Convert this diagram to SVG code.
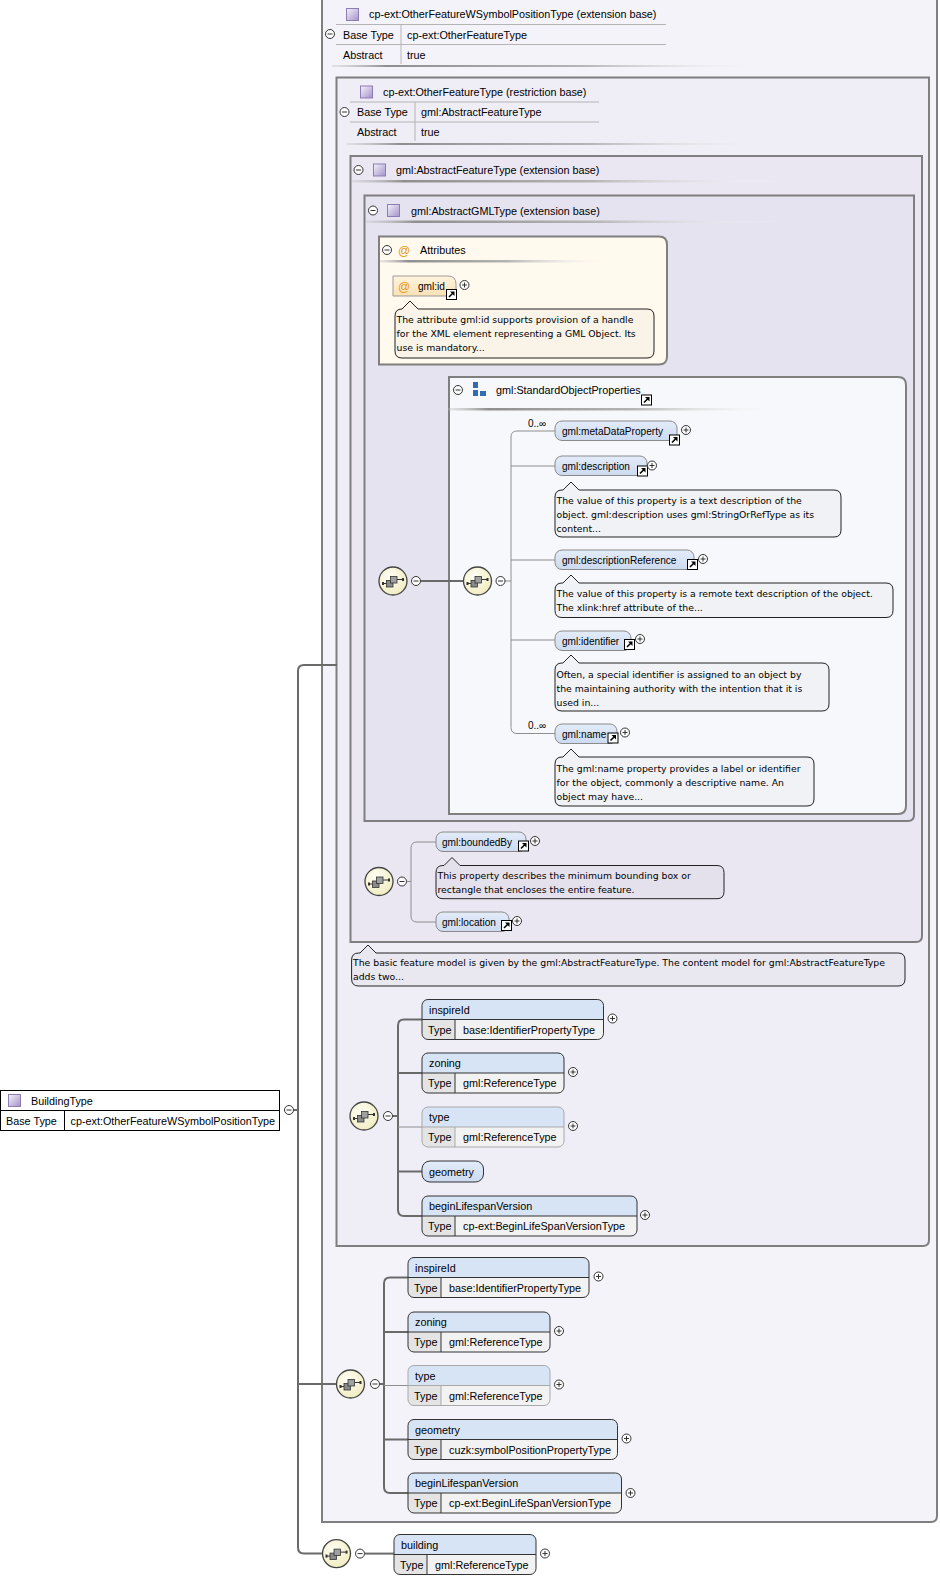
<svg xmlns="http://www.w3.org/2000/svg" width="940" height="1579" viewBox="0 0 940 1579">
<style>
text{font-family:"Liberation Sans",Arial,sans-serif;font-size:10.8px;fill:#000}
.e{font-size:10.1px}
.d{font-family:"DejaVu Sans",Verdana,sans-serif;font-size:9.3px}
.m{font-size:10px}
.at{fill:#e39a13;font-size:12px}
.sb{stroke:#7f7f7f;stroke-width:2}
.tl{stroke:#b4b4b4;stroke-width:1;fill:none}
.sep{fill:url(#sepG)}
.doc{fill:#000;fill-opacity:.025;stroke:#222;stroke-width:1}
.c{stroke:#6a6a6a;stroke-width:2;fill:none}
.cl{stroke:#8e8e8e;stroke-width:1;fill:none}
.el{fill:url(#elG);stroke:#8a8a8a;stroke-width:1}
.elr{fill:url(#elG);stroke:#333;stroke-width:1}
.hd{fill:#d7e4f6}
.tc{fill:#e4e4e4}
.bx{fill:none;stroke:#333;stroke-width:1}
.bxl{fill:none;stroke:#a9a9a9;stroke-width:1}
.ln{stroke:#333;stroke-width:1;fill:none}
.lnl{stroke:#a9a9a9;stroke-width:1;fill:none}
</style>
<defs>
<linearGradient id="sepG" x1="0" x2="1" y1="0" y2="0">
<stop offset="0" stop-color="#bdbdbd" stop-opacity=".3"/>
<stop offset=".12" stop-color="#8f8f8f"/>
<stop offset=".55" stop-color="#b5b5b5"/>
<stop offset="1" stop-color="#ffffff" stop-opacity="0"/>
</linearGradient>
<linearGradient id="elG" x1="0" x2="0" y1="0" y2="1">
<stop offset="0" stop-color="#e3ecf9"/>
<stop offset="1" stop-color="#ccdaf0"/>
</linearGradient>
<linearGradient id="atG" x1="0" x2="0" y1="0" y2="1">
<stop offset="0" stop-color="#fff4df"/>
<stop offset="1" stop-color="#fae0b5"/>
</linearGradient>
<linearGradient id="tyG" x1="0" x2="1" y1="0" y2="1">
<stop offset="0" stop-color="#f6f2fc"/>
<stop offset="1" stop-color="#a292c8"/>
</linearGradient>
<radialGradient id="ciG" cx=".4" cy=".35" r=".7">
<stop offset="0" stop-color="#fffff6"/>
<stop offset="1" stop-color="#f0ebbd"/>
</radialGradient>
<g id="ty"><rect x="0.5" y="0.5" width="12" height="12" fill="url(#tyG)" stroke="#8c7db5" stroke-width="1"/></g>
<g id="mn"><circle r="4.5" fill="#fff" stroke="#333" stroke-width="1"/><path d="M-2.5 0H2.5" stroke="#333" stroke-width="1"/></g>
<g id="pl"><circle r="4.5" fill="#fff" stroke="#333" stroke-width="1"/><path d="M-2.5 0H2.5M0 -2.5V2.5" stroke="#333" stroke-width="1"/></g>
<g id="lk"><rect x="0.5" y="0.5" width="10" height="10" fill="#fff" stroke="#000" stroke-width="1"/><path d="M3 8L7 4" stroke="#000" stroke-width="1.6"/><path d="M4 2.5H8.5V7Z" fill="#000"/></g>
<g id="seq"><circle r="14" fill="url(#ciG)" stroke="#444" stroke-width="1.3"/><path d="M-10 2.5H-6M4 -1.5H10" stroke="#333" stroke-width="1"/><rect x="-11" y="1" width="2" height="3" fill="#333"/><rect x="9" y="-3" width="2" height="3" fill="#333"/><rect x="-6.5" y="-0.5" width="6.5" height="6.5" fill="#8a8a8a" stroke="#333" stroke-width="0.8"/><rect x="-2.5" y="-4.5" width="6.5" height="6.5" fill="#a0a0a0" stroke="#333" stroke-width="0.8"/></g>
</defs>

<rect width="940" height="1579" fill="#fff"/>

<!-- structural boxes -->
<g id="box-OtherFeatureWSymbolPositionType">
<path class="sb" fill="#f5f3fa" d="M322 -5H937V1516Q937 1522 931 1522H322Z"/>
<use href="#ty" x="346" y="8"/>
<text x="369" y="18">cp-ext:OtherFeatureWSymbolPositionType (extension base)</text>
<path class="tl" d="M336 24.5H666M336 44.5H666M401 24.5V64"/>
<use href="#mn" x="330" y="34"/>
<text x="343" y="39">Base Type</text>
<text x="407" y="39">cp-ext:OtherFeatureType</text>
<text x="343" y="58.5">Abstract</text>
<text x="407" y="58.5">true</text>
<rect class="sep" x="332" y="65" width="454" height="2"/>
</g>

<g id="box-OtherFeatureType">
<path class="sb" fill="#efedf6" d="M336.5 77.5H929V1240Q929 1246 923 1246H336.5Z"/>
<use href="#ty" x="360" y="85.5"/>
<text x="383" y="96">cp-ext:OtherFeatureType (restriction base)</text>
<path class="tl" d="M350 102H599M350 122H599M415 102V141"/>
<use href="#mn" x="344.5" y="112"/>
<text x="357" y="116">Base Type</text>
<text x="421" y="116">gml:AbstractFeatureType</text>
<text x="357" y="136">Abstract</text>
<text x="421" y="136">true</text>
<rect class="sep" x="347" y="143" width="439" height="2"/>
</g>

<g id="box-AbstractFeatureType">
<path class="sb" fill="#eae7f3" d="M350.5 156H922V936Q922 942 916 942H350.5Z"/>
<use href="#mn" x="358.5" y="170"/>
<use href="#ty" x="373" y="163.5"/>
<text x="396" y="174">gml:AbstractFeatureType (extension base)</text>
<rect class="sep" x="352" y="180" width="433" height="2.5"/>
</g>

<g id="box-AbstractGMLType">
<path class="sb" fill="#e6e3f0" d="M364.5 195.5H914V815Q914 821 908 821H364.5Z"/>
<use href="#mn" x="373" y="210.5"/>
<use href="#ty" x="387" y="204"/>
<text x="411" y="214.5">gml:AbstractGMLType (extension base)</text>
<rect class="sep" x="366" y="220.5" width="414" height="2.5"/>
</g>

<g id="attributes">
<path class="sb" fill="#fff9ee" d="M379 236.5H659Q667 236.5 667 244.5V356.5Q667 364.5 659 364.5H379Z"/>
<use href="#mn" x="387" y="250"/>
<text class="at" x="398" y="254.5">@</text>
<text x="420" y="254">Attributes</text>
<rect class="sep" x="380" y="260" width="232" height="2.5"/>
</g>

<g id="attr-gml-id">
<path fill="url(#atG)" stroke="#9a9a9a" stroke-width="1" d="M393 276H448Q456 276 456 284V296H393Z"/>
<text class="at" x="398" y="290.5">@</text>
<text class="e" x="418" y="290">gml:id</text>
<use href="#lk" x="446" y="289"/>
<use href="#pl" x="464.5" y="285"/>
<path class="doc" d="M402 309L410 301L418 309H647Q654 309 654 316V351Q654 358 647 358H402Q395 358 395 351V316Q395 309 402 309Z"/>
<text class="d" x="396.5" y="322.5">The attribute gml:id supports provision of a handle</text>
<text class="d" x="396.5" y="336.5">for the XML element representing a GML Object. Its</text>
<text class="d" x="396.5" y="350.5">use is mandatory...</text>
</g>

<g id="StandardObjectProperties">
<path class="sb" fill="#f7f8fb" d="M449 377H898Q906 377 906 385V806Q906 814 898 814H449Z"/>
<use href="#mn" x="458" y="390"/>
<rect x="473" y="382" width="5" height="6" fill="#2f6db5"/>
<rect x="473" y="390" width="5" height="6" fill="#2f6db5"/>
<rect x="480" y="391" width="6" height="5" fill="#2f6db5"/>
<text x="496" y="394">gml:StandardObjectProperties</text>
<use href="#lk" x="641" y="394.5"/>
<rect class="sep" x="448" y="408" width="337" height="2.5"/>
</g>

<!-- connectors -->
<g id="connectors">
<path class="c" d="M294 1110H298"/>
<path class="c" d="M337 665H304Q298 665 298 671V1547.6Q298 1553.6 304 1553.6H322.5"/>
<path class="c" d="M298 1384H336.5"/>
<path class="c" d="M421 581H463.5"/>
<path class="cl" d="M505 581H511"/>
<path class="cl" d="M555 431H517Q511 431 511 437V727.5Q511 733.5 517 733.5H555M511 466H555M511 560H555M511 640H555"/>
<path class="cl" d="M407 881.5H411"/>
<path class="cl" d="M436 842H417Q411 842 411 848V916Q411 922 417 922H436"/>
<path class="c" d="M393 1116H398"/>
<path class="c" d="M422 1019.5H404Q398 1019.5 398 1025.5V1210Q398 1216 404 1216H422M398 1073H422M398 1171.5H422"/>
<path class="cl" d="M398 1127H422"/>
<path class="c" d="M380 1384H384"/>
<path class="c" d="M408 1277.5H390Q384 1277.5 384 1283.5V1487Q384 1493 390 1493H408M384 1332H408M384 1439.5H408"/>
<path class="cl" d="M384 1385.5H408"/>
<path class="c" d="M365 1553.6H394"/>
</g>

<!-- compositors -->
<g id="seq-AbstractGMLType"><use href="#seq" x="393" y="581"/><use href="#mn" x="416" y="581"/></g>
<g id="seq-StandardObjectProperties"><use href="#seq" x="477.5" y="581"/><use href="#mn" x="500.5" y="581"/></g>
<g id="seq-AbstractFeatureType"><use href="#seq" x="379" y="881.5"/><use href="#mn" x="402" y="881.5"/></g>
<g id="seq-OtherFeatureType"><use href="#seq" x="364" y="1116"/><use href="#mn" x="388" y="1116"/></g>
<g id="seq-OtherFeatureWSymbolPositionType"><use href="#seq" x="350.5" y="1384"/><use href="#mn" x="375" y="1384"/></g>
<g id="seq-BuildingType"><use href="#seq" x="336.5" y="1553.6"/><use href="#mn" x="360" y="1553.6"/></g>

<!-- StandardObjectProperties children -->
<g id="gml-metaDataProperty">
<text class="m" x="528" y="426.5">0..∞</text>
<rect class="el" x="555" y="421" width="122" height="19.5" rx="7"/>
<text class="e" x="562" y="435">gml:metaDataProperty</text>
<use href="#lk" x="669" y="434.5"/>
<use href="#pl" x="686" y="430"/>
</g>
<g id="gml-description">
<rect class="el" x="555" y="456" width="92" height="19.5" rx="7"/>
<text class="e" x="562" y="470">gml:description</text>
<use href="#lk" x="637" y="465.5"/>
<use href="#pl" x="652" y="465.5"/>
<path class="doc" d="M563 490L571 482L579 490H834Q841 490 841 497V530Q841 537 834 537H562Q555 537 555 530V497Q555 490 562 490Z"/>
<text class="d" x="556.5" y="503.5">The value of this property is a text description of the</text>
<text class="d" x="556.5" y="517.5">object. gml:description uses gml:StringOrRefType as its</text>
<text class="d" x="556.5" y="531.5">content...</text>
</g>
<g id="gml-descriptionReference">
<rect class="el" x="555" y="550" width="139" height="19.5" rx="7"/>
<text class="e" x="562" y="564">gml:descriptionReference</text>
<use href="#lk" x="687" y="559"/>
<use href="#pl" x="703" y="559"/>
<path class="doc" d="M563 583L571 575L579 583H886Q893 583 893 590V610.5Q893 617.5 886 617.5H562Q555 617.5 555 610.5V590Q555 583 562 583Z"/>
<text class="d" x="556.5" y="596.5">The value of this property is a remote text description of the object.</text>
<text class="d" x="556.5" y="611">The xlink:href attribute of the...</text>
</g>
<g id="gml-identifier">
<rect class="el" x="555" y="631" width="76" height="19.5" rx="7"/>
<text class="e" x="562" y="644.5">gml:identifier</text>
<use href="#lk" x="624" y="639"/>
<use href="#pl" x="640" y="639"/>
<path class="doc" d="M563 663L571 655L579 663H822Q829 663 829 670V704Q829 711 822 711H562Q555 711 555 704V670Q555 663 562 663Z"/>
<text class="d" x="556.5" y="677.5">Often, a special identifier is assigned to an object by</text>
<text class="d" x="556.5" y="691.5">the maintaining authority with the intention that it is</text>
<text class="d" x="556.5" y="705.5">used in...</text>
</g>
<g id="gml-name">
<text class="m" x="528" y="728.5">0..∞</text>
<rect class="el" x="555" y="724" width="62" height="19.5" rx="7"/>
<text class="e" x="562" y="737.5">gml:name</text>
<use href="#lk" x="607.5" y="732.5"/>
<use href="#pl" x="625" y="732.5"/>
<path class="doc" d="M563 757L571 749L579 757H807Q814 757 814 764V799Q814 806 807 806H562Q555 806 555 799V764Q555 757 562 757Z"/>
<text class="d" x="556.5" y="771.5">The gml:name property provides a label or identifier</text>
<text class="d" x="556.5" y="785.5">for the object, commonly a descriptive name. An</text>
<text class="d" x="556.5" y="799.5">object may have...</text>
</g>

<g id="gml-boundedBy">
<rect class="el" x="436" y="832" width="90" height="19.5" rx="7"/>
<text class="e" x="442" y="846">gml:boundedBy</text>
<use href="#lk" x="518" y="840.5"/>
<use href="#pl" x="535" y="841"/>
<path class="doc" d="M444 865.5L452 857.5L460 865.5H717Q724 865.5 724 872.5V891.7Q724 898.7 717 898.7H443Q436 898.7 436 891.7V872.5Q436 865.5 443 865.5Z"/>
<text class="d" x="437.5" y="879">This property describes the minimum bounding box or</text>
<text class="d" x="437.5" y="893">rectangle that encloses the entire feature.</text>
</g>
<g id="gml-location">
<rect class="el" x="436" y="912" width="73" height="19.5" rx="7"/>
<text class="e" x="442" y="926">gml:location</text>
<use href="#lk" x="501" y="920"/>
<use href="#pl" x="517" y="921"/>
</g>
<g id="doc-AbstractFeatureType">
<path class="doc" d="M360 953L368 945L376 953H898Q905 953 905 960V979Q905 986 898 986H358.6Q351.6 986 351.6 979V960Q351.6 953 358.6 953Z"/>
<text class="d" x="353" y="966">The basic feature model is given by the gml:AbstractFeatureType. The content model for gml:AbstractFeatureType</text>
<text class="d" x="353" y="980">adds two...</text>
</g>

<!-- OtherFeatureType elements -->
<g id="ofp-inspireId">
<rect x="422" y="999.5" width="181.5" height="40" rx="6" fill="#f2f2f2"/>
<path class="hd" d="M422 1019.5V1005.5Q422 999.5 428 999.5H597.5Q603.5 999.5 603.5 1005.5V1019.5Z"/>
<path class="tc" d="M422 1019.5H455V1039.5H428Q422 1039.5 422 1033.5Z"/>
<path class="ln" d="M422 1019.5H603.5M455 1019.5V1039.5"/>
<rect class="bx" x="422" y="999.5" width="181.5" height="40" rx="6"/>
<text x="429" y="1013.5">inspireId</text>
<text x="428" y="1033.5">Type</text>
<text x="463" y="1033.5">base:IdentifierPropertyType</text>
<use href="#pl" x="612.5" y="1018.5"/>
</g>
<g id="ofp-zoning">
<rect x="422" y="1053" width="142" height="40" rx="6" fill="#f2f2f2"/>
<path class="hd" d="M422 1073V1059Q422 1053 428 1053H558Q564 1053 564 1059V1073Z"/>
<path class="tc" d="M422 1073H455V1093H428Q422 1093 422 1087Z"/>
<path class="ln" d="M422 1073H564M455 1073V1093"/>
<rect class="bx" x="422" y="1053" width="142" height="40" rx="6"/>
<text x="429" y="1067">zoning</text>
<text x="428" y="1087">Type</text>
<text x="463" y="1087">gml:ReferenceType</text>
<use href="#pl" x="573" y="1072"/>
</g>
<g id="ofp-type">
<rect x="422" y="1107" width="142" height="40" rx="6" fill="#f2f2f2"/>
<path class="hd" d="M422 1127V1113Q422 1107 428 1107H558Q564 1107 564 1113V1127Z"/>
<path class="tc" d="M422 1127H455V1147H428Q422 1147 422 1141Z"/>
<path class="lnl" d="M422 1127H564M455 1127V1147"/>
<rect class="bxl" x="422" y="1107" width="142" height="40" rx="6"/>
<text x="429" y="1121">type</text>
<text x="428" y="1141">Type</text>
<text x="463" y="1141">gml:ReferenceType</text>
<use href="#pl" x="573" y="1126"/>
</g>
<g id="ofp-geometry">
<rect class="elr" x="422" y="1161" width="61.5" height="21" rx="8"/>
<text x="429" y="1175.5">geometry</text>
</g>
<g id="ofp-beginLifespanVersion">
<rect x="422" y="1196" width="215" height="40" rx="6" fill="#f2f2f2"/>
<path class="hd" d="M422 1216V1202Q422 1196 428 1196H631Q637 1196 637 1202V1216Z"/>
<path class="tc" d="M422 1216H455V1236H428Q422 1236 422 1230Z"/>
<path class="ln" d="M422 1216H637M455 1216V1236"/>
<rect class="bx" x="422" y="1196" width="215" height="40" rx="6"/>
<text x="429" y="1210">beginLifespanVersion</text>
<text x="428" y="1230">Type</text>
<text x="463" y="1230">cp-ext:BeginLifeSpanVersionType</text>
<use href="#pl" x="645" y="1215"/>
</g>

<!-- OtherFeatureWSymbolPositionType elements -->
<g id="ofw-inspireId">
<rect x="408" y="1257.5" width="181" height="40" rx="6" fill="#f2f2f2"/>
<path class="hd" d="M408 1277.5V1263.5Q408 1257.5 414 1257.5H583Q589 1257.5 589 1263.5V1277.5Z"/>
<path class="tc" d="M408 1277.5H441V1297.5H414Q408 1297.5 408 1291.5Z"/>
<path class="ln" d="M408 1277.5H589M441 1277.5V1297.5"/>
<rect class="bx" x="408" y="1257.5" width="181" height="40" rx="6"/>
<text x="415" y="1271.5">inspireId</text>
<text x="414" y="1291.5">Type</text>
<text x="449" y="1291.5">base:IdentifierPropertyType</text>
<use href="#pl" x="598.5" y="1276.5"/>
</g>
<g id="ofw-zoning">
<rect x="408" y="1312" width="142" height="40" rx="6" fill="#f2f2f2"/>
<path class="hd" d="M408 1332V1318Q408 1312 414 1312H544Q550 1312 550 1318V1332Z"/>
<path class="tc" d="M408 1332H441V1352H414Q408 1352 408 1346Z"/>
<path class="ln" d="M408 1332H550M441 1332V1352"/>
<rect class="bx" x="408" y="1312" width="142" height="40" rx="6"/>
<text x="415" y="1326">zoning</text>
<text x="414" y="1346">Type</text>
<text x="449" y="1346">gml:ReferenceType</text>
<use href="#pl" x="559" y="1331"/>
</g>
<g id="ofw-type">
<rect x="408" y="1365.5" width="142" height="40" rx="6" fill="#f2f2f2"/>
<path class="hd" d="M408 1385.5V1371.5Q408 1365.5 414 1365.5H544Q550 1365.5 550 1371.5V1385.5Z"/>
<path class="tc" d="M408 1385.5H441V1405.5H414Q408 1405.5 408 1399.5Z"/>
<path class="lnl" d="M408 1385.5H550M441 1385.5V1405.5"/>
<rect class="bxl" x="408" y="1365.5" width="142" height="40" rx="6"/>
<text x="415" y="1379.5">type</text>
<text x="414" y="1399.5">Type</text>
<text x="449" y="1399.5">gml:ReferenceType</text>
<use href="#pl" x="559" y="1384.5"/>
</g>
<g id="ofw-geometry">
<rect x="408" y="1419.5" width="209.5" height="40" rx="6" fill="#f2f2f2"/>
<path class="hd" d="M408 1439.5V1425.5Q408 1419.5 414 1419.5H611.5Q617.5 1419.5 617.5 1425.5V1439.5Z"/>
<path class="tc" d="M408 1439.5H441V1459.5H414Q408 1459.5 408 1453.5Z"/>
<path class="ln" d="M408 1439.5H617.5M441 1439.5V1459.5"/>
<rect class="bx" x="408" y="1419.5" width="209.5" height="40" rx="6"/>
<text x="415" y="1433.5">geometry</text>
<text x="414" y="1453.5">Type</text>
<text x="449" y="1453.5">cuzk:symbolPositionPropertyType</text>
<use href="#pl" x="626.5" y="1438.5"/>
</g>
<g id="ofw-beginLifespanVersion">
<rect x="408" y="1473" width="213.5" height="40" rx="6" fill="#f2f2f2"/>
<path class="hd" d="M408 1493V1479Q408 1473 414 1473H615.5Q621.5 1473 621.5 1479V1493Z"/>
<path class="tc" d="M408 1493H441V1513H414Q408 1513 408 1507Z"/>
<path class="ln" d="M408 1493H621.5M441 1493V1513"/>
<rect class="bx" x="408" y="1473" width="213.5" height="40" rx="6"/>
<text x="415" y="1487">beginLifespanVersion</text>
<text x="414" y="1507">Type</text>
<text x="449" y="1507">cp-ext:BeginLifeSpanVersionType</text>
<use href="#pl" x="630.5" y="1493"/>
</g>

<!-- BuildingType element -->
<g id="building">
<rect x="394" y="1534.5" width="142" height="40" rx="6" fill="#f2f2f2"/>
<path class="hd" d="M394 1554.5V1540.5Q394 1534.5 400 1534.5H530Q536 1534.5 536 1540.5V1554.5Z"/>
<path class="tc" d="M394 1554.5H427V1574.5H400Q394 1574.5 394 1568.5Z"/>
<path class="ln" d="M394 1554.5H536M427 1554.5V1574.5"/>
<rect class="bx" x="394" y="1534.5" width="142" height="40" rx="6"/>
<text x="401" y="1548.5">building</text>
<text x="400" y="1568.5">Type</text>
<text x="435" y="1568.5">gml:ReferenceType</text>
<use href="#pl" x="545" y="1553.5"/>
</g>

<g id="BuildingType">
<rect x="0.5" y="1090.5" width="279" height="40" fill="#fff" stroke="#000" stroke-width="1"/>
<path d="M0.5 1110.5H279.5M64.5 1110.5V1130.5" stroke="#000" stroke-width="1"/>
<use href="#ty" x="8" y="1094"/>
<text x="31" y="1104.5">BuildingType</text>
<text x="6" y="1125">Base Type</text>
<text x="70.5" y="1125">cp-ext:OtherFeatureWSymbolPositionType</text>
<use href="#mn" x="289" y="1110"/>
</g>
</svg>
